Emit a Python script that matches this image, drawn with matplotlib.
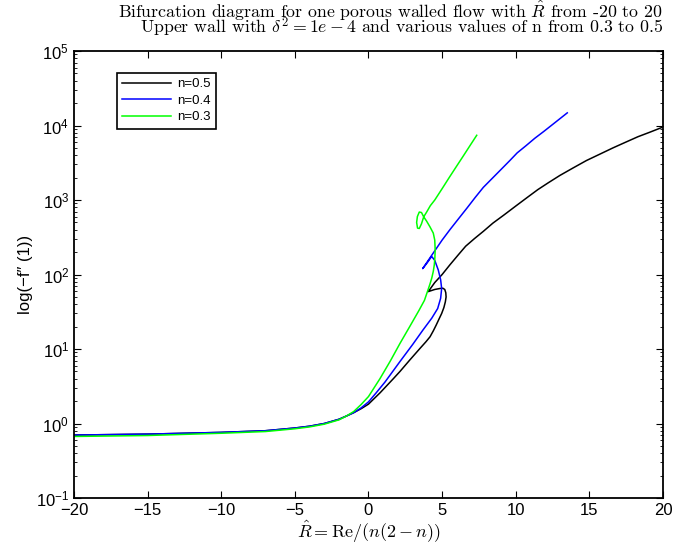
import matplotlib
matplotlib.use('Agg')
import matplotlib.pyplot as plt
from matplotlib.ticker import FixedLocator, FixedFormatter, LogLocator, NullFormatter

# Branches of -f''(1) against R_hat (fold / loop included)
x_n05 = [-20, -15, -10, -7, -5, -4, -3, -2, -1.5, -1, -0.5, 0, 0.8, 1.69, 2.14, 2.8, 3.5, 3.9, 4.18,
         4.4, 4.6, 4.8, 4.97, 5.12, 5.22, 5.27, 5.25, 5.18, 5.05, 4.86, 4.5, 4.06,
         4.5, 5.0, 5.53, 6.08, 6.6, 7.2, 7.8, 8.45, 9.2, 10, 10.8, 11.5, 12.2, 13, 13.9, 14.8,
         15.7, 16.6, 17.4, 18.3, 19.1, 20]
y_n05 = [0.70, 0.72, 0.76, 0.80, 0.87, 0.92, 1.0, 1.14, 1.26, 1.40, 1.58, 1.82, 2.6, 4.0, 5.0, 7.1,
         10.2, 12.5, 14.6, 17.5, 21, 25.5, 30, 36, 43, 50, 57, 63, 65.5, 65, 63, 59,
         78, 100, 135, 182, 240, 304, 380, 490, 630, 830, 1090, 1380, 1700, 2140, 2700, 3390,
         4120, 5010, 5900, 7080, 8130, 9550]

x_n04 = [-20, -15, -10, -7, -5, -4, -3, -2, -1.5, -1, -0.5, 0, 0.5, 1.12, 2.14, 3.0, 3.7, 4.3, 4.7,
         4.9, 4.97, 4.9, 4.74, 4.5, 4.29, 4.0, 3.68,
         4.3, 5.0, 5.53, 6.1, 6.7, 7.25, 7.8, 8.4, 9.0, 9.6, 10.1, 10.7, 11.3, 11.9, 12.6, 13.5]
y_n04 = [0.70, 0.72, 0.76, 0.80, 0.87, 0.92, 1.0, 1.14, 1.26, 1.40, 1.62, 1.95, 2.55, 3.6, 6.8, 11.5,
         18, 26, 35, 48, 65, 85, 115, 155, 175, 145, 120,
         182, 290, 400, 556, 785, 1085, 1480, 1950, 2570, 3390, 4300, 5370, 6760, 8320, 10700, 14800]

x_n03 = [-20, -15, -10, -7, -5, -4, -3, -2, -1.5, -1, -0.5, 0, 0.78, 1.5, 2.14, 2.8, 3.43, 3.8, 4.04,
         4.18, 4.3, 4.4, 4.47, 4.51, 4.53, 4.5, 4.4, 4.18, 3.95, 3.75,
         3.6, 3.45, 3.32, 3.27, 3.33, 3.45, 3.6, 3.75,
         3.95, 4.2, 4.5, 5.0, 5.5, 6.0, 6.4, 6.9, 7.35]
y_n03 = [0.67, 0.69, 0.74, 0.78, 0.85, 0.90, 0.98, 1.12, 1.26, 1.45, 1.80, 2.3, 4.0, 7.0, 11.9, 20,
         33, 45, 62, 75, 90, 110, 135, 170, 213, 290, 360, 435, 520, 595,
         680, 690, 600, 500, 420, 415, 480, 595,
         690, 840, 1000, 1420, 2030, 2880, 3800, 5400, 7400]

series_labels = ['n=0.5', 'n=0.4', 'n=0.3']
series_colors = ['k', 'b', '#00ff00']

xticks = [-20, -15, -10, -5, 0, 5, 10, 15, 20]
yticks = [1e-1, 1e0, 1e1, 1e2, 1e3, 1e4, 1e5]
ytick_labels = [r'$\mathregular{10^{-1}}$', r'$\mathregular{10^{0}}$', r'$\mathregular{10^{1}}$',
                r'$\mathregular{10^{2}}$', r'$\mathregular{10^{3}}$', r'$\mathregular{10^{4}}$',
                r'$\mathregular{10^{5}}$']

title_line1 = r'Bifurcation diagram for one porous walled flow with $\hat{R}$ from -20 to 20'
title_line2 = r'Upper wall with $\delta^2 = 1e-4$ and various values of n from 0.3 to 0.5'


def plot_bifurcation():
    plt.rcParams['font.family'] = ['Liberation Sans', 'DejaVu Sans']
    plt.rcParams['mathtext.fontset'] = 'cm'

    fig = plt.figure(figsize=(6.75, 5.49), dpi=100)
    ax = fig.add_axes([0.1096, 0.0929, 0.8726, 0.8141])

    for xs, ys, lab, col in zip([x_n05, x_n04, x_n03], [y_n05, y_n04, y_n03],
                                series_labels, series_colors):
        ax.plot(xs, ys, color=col, lw=1.1, label=lab)

    ax.set_yscale('log')
    ax.set_xlim(-20, 20)
    ax.set_ylim(1e-1, 1e5)

    ax.xaxis.set_major_locator(FixedLocator(xticks))
    ax.yaxis.set_major_locator(FixedLocator(yticks))
    ax.yaxis.set_major_formatter(FixedFormatter(ytick_labels))
    ax.yaxis.set_minor_locator(LogLocator(base=10, subs=range(2, 10), numticks=20))
    ax.yaxis.set_minor_formatter(NullFormatter())

    ax.tick_params(which='both', direction='in', top=True, right=True, labelsize=12)
    ax.tick_params(which='major', length=5, width=0.8)
    ax.tick_params(which='minor', length=2.5, width=0.6)
    for sp in ax.spines.values():
        sp.set_linewidth(1.3)

    ax.set_xlabel(r'$\hat{R} = \mathrm{Re}/(n(2-n))$', fontsize=13, labelpad=1)
    ax.set_ylabel('log(\u2212f\u2033 (1))', fontsize=12, labelpad=2)

    # two-line title, right aligned to the axes edge
    fig.text(0.982, 0.967, title_line1, ha='right', va='baseline', fontsize=12.8, family='cmr10')
    fig.text(0.982, 0.939, title_line2, ha='right', va='baseline', fontsize=12.8, family='cmr10')

    leg = ax.legend(loc='upper left', bbox_to_anchor=(0.073, 0.951), borderaxespad=0,
                    fontsize=9.5, fancybox=False, edgecolor='k', framealpha=1,
                    handlelength=3.7, handletextpad=0.45, borderpad=0.4, labelspacing=0.32)
    leg.get_frame().set_linewidth(1.2)

    fig.savefig('out.png', dpi=100)


plot_bifurcation()
